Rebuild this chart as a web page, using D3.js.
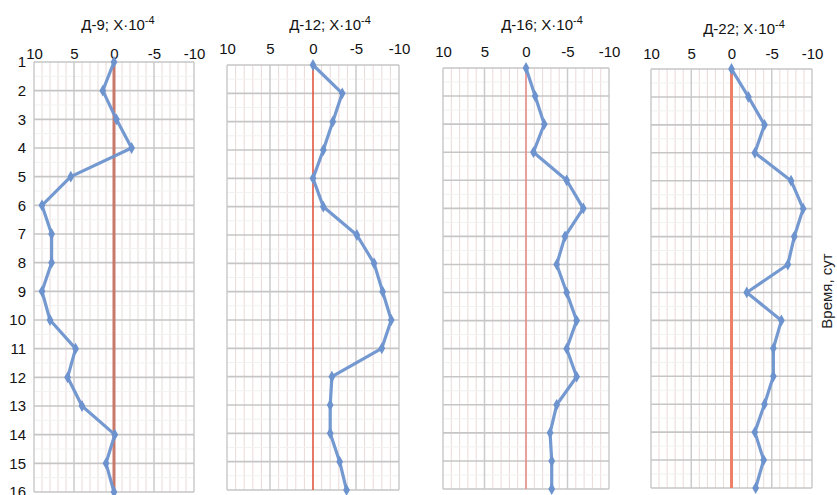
<!DOCTYPE html>
<html>
<head>
<meta charset="utf-8">
<script src="https://cdn.jsdelivr.net/npm/d3@7"></script>
<style>
  html, body { margin: 0; padding: 0; background: #fff; }
  svg { display: block; font-family: "Liberation Sans", Arial, sans-serif; }
</style>
</head>
<body>
<svg id="chart" width="837" height="495"></svg>
<script>
// Days of observation (rows)
const days = [1, 2, 3, 4, 5, 6, 7, 8, 9, 10, 11, 12, 13, 14, 15, 16];

// Strain values, X·10^-4, one array per gauge
const d9  = [0, 1.4, -0.3, -2.2, 5.4, 9.0, 7.8, 7.8, 9.0, 8.0, 4.8, 5.8, 4.0, -0.1, 1.0, 0];
const d12 = [0, -3.4, -2.3, -1.2, 0, -1.2, -5.1, -7.1, -8.1, -9.1, -8.0, -2.2, -2.0, -2.0, -3.1, -3.9];
const d16 = [0, -1.1, -2.2, -0.9, -4.9, -6.9, -4.7, -3.7, -4.9, -6.1, -4.9, -6.1, -3.7, -2.9, -3.1, -3.1];
const d22 = [0, -2.1, -4.1, -2.9, -7.4, -8.9, -7.8, -7.0, -1.9, -6.2, -5.2, -5.2, -4.1, -2.9, -4.0, -3.0];

const gaugeNames = ["Д-9", "Д-12", "Д-16", "Д-22"];
const seriesList = [d9, d12, d16, d22];

// Horizontal axis ticks (reversed axis: positive to the left)
const xTicks = [10, 5, 0, -5, -10];
const yTitle = "Время, сут";

// Panel geometry
const panels = [
  { left: 34,  right: 194, top: 62, bottom: 492, titleX: 118, titleY: 30, tickY: 59, zeroColor: "#c9796a", zeroWidth: 3 },
  { left: 227, right: 399, top: 65, bottom: 490, titleX: 330, titleY: 30, tickY: 54, zeroColor: "#e2573f", zeroWidth: 1.6 },
  { left: 443, right: 609, top: 68, bottom: 489, titleX: 542, titleY: 30, tickY: 57, zeroColor: "#e58a86", zeroWidth: 1.6 },
  { left: 651, right: 812, top: 69, bottom: 488, titleX: 744, titleY: 34, tickY: 59, zeroColor: "#ef8068", zeroWidth: 3 }
];

const svg = d3.select("#chart");
const lineColor = "#6d93cf";

panels.forEach((p, i) => {
  const x = d3.scaleLinear().domain([10, -10]).range([p.left, p.right]);
  const y = d3.scaleLinear().domain([1, 16]).range([p.top, p.bottom]);
  const g = svg.append("g");

  // minor vertical grid (every unit)
  g.append("g").selectAll("line")
    .data(d3.range(-10, 11).filter(v => v % 5 !== 0))
    .join("line")
    .attr("x1", d => x(d)).attr("x2", d => x(d))
    .attr("y1", p.top).attr("y2", p.bottom)
    .attr("stroke", "#ead9d9").attr("stroke-width", 1);

  // half-day horizontal grid
  g.append("g").selectAll("line")
    .data(days.slice(0, -1).map(d => d + 0.5))
    .join("line")
    .attr("x1", p.left).attr("x2", p.right)
    .attr("y1", d => y(d)).attr("y2", d => y(d))
    .attr("stroke", "#f1f1f1").attr("stroke-width", 1);

  // major vertical grid
  g.append("g").selectAll("line")
    .data(xTicks.filter(v => v !== 0))
    .join("line")
    .attr("x1", d => x(d)).attr("x2", d => x(d))
    .attr("y1", p.top).attr("y2", p.bottom)
    .attr("stroke", "#cbcbcb").attr("stroke-width", 1.5);

  // day grid lines
  g.append("g").selectAll("line")
    .data(days)
    .join("line")
    .attr("x1", p.left).attr("x2", p.right)
    .attr("y1", d => y(d)).attr("y2", d => y(d))
    .attr("stroke", "#c6c6c6").attr("stroke-width", 1.6);

  // zero line
  g.append("line")
    .attr("x1", x(0)).attr("x2", x(0))
    .attr("y1", p.top).attr("y2", p.bottom)
    .attr("stroke", p.zeroColor).attr("stroke-width", p.zeroWidth);

  // top tick labels via axis
  const axis = d3.axisTop(x).tickValues(xTicks).tickSize(0).tickPadding(0)
    .tickFormat(d => d < 0 ? "-" + Math.abs(d) : String(d));
  const ax = g.append("g").attr("transform", `translate(0,${p.tickY})`).call(axis);
  ax.select(".domain").remove();
  ax.selectAll("text").attr("font-size", 15).attr("fill", "#111")
    .attr("font-family", "Liberation Sans, Arial, sans-serif").attr("dy", 0);

  // title with superscript exponent
  const t = g.append("text")
    .attr("x", p.titleX).attr("y", p.titleY)
    .attr("text-anchor", "middle").attr("font-size", 15).attr("fill", "#111");
  t.append("tspan").text(gaugeNames[i] + "; X·10");
  t.append("tspan").attr("dy", -6).attr("font-size", 11).text("-4");

  // data line
  const data = seriesList[i].map((v, k) => ({ day: days[k], v }));
  g.append("path")
    .datum(data)
    .attr("fill", "none")
    .attr("stroke", lineColor).attr("stroke-width", 3.2)
    .attr("stroke-linejoin", "round")
    .attr("opacity", 0.95)
    .attr("d", d3.line().x(d => x(d.v)).y(d => y(d.day)));

  // markers
  g.append("g").selectAll("path")
    .data(data)
    .join("path")
    .attr("transform", d => `translate(${x(d.v)},${y(d.day)})`)
    .attr("d", d3.symbol(d3.symbolDiamond, 40))
    .attr("fill", lineColor);

  // day labels on the first panel
  if (i === 0) {
    const yAxis = d3.axisLeft(y).tickValues(days).tickSize(0).tickPadding(0).tickFormat(d3.format("d"));
    const ya = g.append("g").attr("transform", `translate(26,0)`).call(yAxis);
    ya.select(".domain").remove();
    ya.selectAll("text").attr("font-size", 15).attr("fill", "#111")
      .attr("font-family", "Liberation Sans, Arial, sans-serif");
  }
});

// vertical axis title on the right
svg.append("text")
  .attr("transform", "translate(832,291) rotate(-90)")
  .attr("text-anchor", "middle")
  .attr("font-size", 15)
  .attr("fill", "#222")
  .text(yTitle);
</script>
</body>
</html>
